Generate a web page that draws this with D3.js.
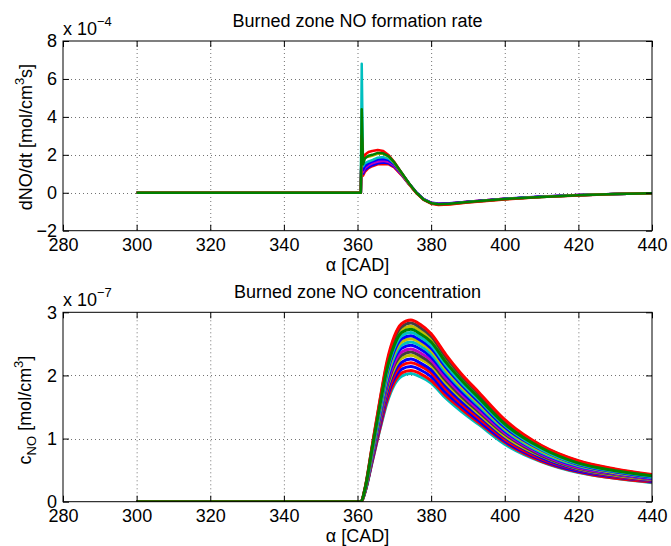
<!DOCTYPE html>
<html><head><meta charset="utf-8">
<script src="https://cdn.jsdelivr.net/npm/d3@7"></script>
<style>
body{margin:0;background:#fff}
svg{display:block}
text{font-family:"Liberation Sans",Arial,Helvetica,sans-serif;fill:#000}
</style>
</head><body>
<svg id="c" width="671" height="546"></svg>
<script>
// ---------- tick labels ----------
const alphaTicks = [280, 300, 320, 340, 360, 380, 400, 420, 440];
const rateTicks = [-2, 0, 2, 4, 6, 8];
const concTicks = [0, 1, 2, 3];

// ---------- top panel: dNO/dt  (x 1e-4 mol/cm^3 s) ----------
const rateAlpha = [300, 360.9, 361.15, 361.5, 362, 363, 364, 365.5, 367, 368.5, 370, 372, 374, 376, 378, 380, 382, 385, 390, 395, 400, 410, 420, 430, 440];
const rateRed     = [0, 0, 3.0, 1.7, 2.0, 2.15, 2.2, 2.25, 2.2, 1.98, 1.62, 1.05, 0.48, -0.02, -0.38, -0.58, -0.65, -0.62, -0.52, -0.43, -0.35, -0.23, -0.14, -0.07, -0.03];
const rateOlive   = [0, 0, 2.8, 1.9, 1.95, 1.9, 1.95, 2.05, 2.05, 1.9, 1.58, 1.02, 0.47, -0.01, -0.36, -0.56, -0.62, -0.6, -0.5, -0.42, -0.34, -0.22, -0.13, -0.07, -0.03];
const rateBlue    = [0, 0, 3.2, 1.2, 1.4, 1.55, 1.65, 1.75, 1.78, 1.72, 1.5, 1.02, 0.5, 0.02, -0.34, -0.54, -0.6, -0.58, -0.49, -0.41, -0.33, -0.21, -0.13, -0.06, -0.02];
const rateMagenta = [0, 0, 2.9, 1.1, 1.3, 1.45, 1.55, 1.65, 1.68, 1.62, 1.42, 0.97, 0.46, 0.0, -0.35, -0.53, -0.58, -0.56, -0.48, -0.4, -0.32, -0.21, -0.12, -0.06, -0.02];
const rateGray    = [0, 0, 2.7, 1.3, 1.5, 1.6, 1.7, 1.8, 1.82, 1.74, 1.5, 1.0, 0.47, -0.01, -0.36, -0.55, -0.6, -0.58, -0.49, -0.41, -0.33, -0.21, -0.13, -0.06, -0.02];
const rateCyan    = [0, 0, 6.8, 1.4, 1.55, 1.65, 1.72, 1.85, 1.88, 1.8, 1.55, 1.03, 0.48, -0.01, -0.37, -0.56, -0.61, -0.59, -0.5, -0.42, -0.33, -0.22, -0.13, -0.06, -0.02];
const rateBlue2   = [0, 0, 3.0, 1.0, 1.2, 1.35, 1.45, 1.55, 1.6, 1.55, 1.38, 0.95, 0.45, 0.0, -0.34, -0.52, -0.56, -0.55, -0.47, -0.39, -0.31, -0.2, -0.12, -0.06, -0.02];
const rateRed2    = [0, 0, 2.6, 0.9, 1.1, 1.3, 1.4, 1.5, 1.52, 1.5, 1.33, 0.92, 0.44, -0.01, -0.36, -0.55, -0.6, -0.57, -0.48, -0.4, -0.32, -0.21, -0.12, -0.06, -0.02];
const rateGreen   = [0, 0, 4.4, 1.5, 1.8, 1.95, 2.0, 2.1, 2.08, 1.92, 1.6, 1.05, 0.5, 0.0, -0.36, -0.55, -0.6, -0.58, -0.49, -0.41, -0.33, -0.22, -0.13, -0.07, -0.03];

// ---------- bottom panel: c_NO (x 1e-7 mol/cm^3) ----------
const concAlpha = [300, 361, 362, 364, 366, 368, 370, 372, 374.5, 377, 380, 384, 388, 393, 400, 410, 420, 430, 440];
const conc01 = [0, 0, .20, .89, 1.58, 2.22, 2.62, 2.82, 2.88, 2.81, 2.66, 2.33, 2.04, 1.73, 1.30, .89, .65, .52, .43];
const conc02 = [0, 0, .20, .88, 1.56, 2.18, 2.58, 2.77, 2.83, 2.76, 2.62, 2.29, 2.01, 1.70, 1.27, .88, .64, .51, .42];
const conc03 = [0, 0, .19, .86, 1.53, 2.14, 2.53, 2.72, 2.78, 2.71, 2.57, 2.25, 1.97, 1.67, 1.25, .86, .63, .50, .42];
const conc04 = [0, 0, .19, .85, 1.50, 2.10, 2.48, 2.68, 2.73, 2.66, 2.53, 2.21, 1.94, 1.64, 1.23, .85, .61, .49, .41];
const conc05 = [0, 0, .19, .83, 1.47, 2.06, 2.44, 2.63, 2.68, 2.61, 2.48, 2.17, 1.90, 1.61, 1.21, .83, .60, .48, .40];
const conc06 = [0, 0, .18, .82, 1.45, 2.03, 2.39, 2.58, 2.63, 2.56, 2.43, 2.13, 1.87, 1.58, 1.18, .82, .59, .47, .39];
const conc07 = [0, 0, .18, .80, 1.42, 1.99, 2.35, 2.53, 2.58, 2.52, 2.39, 2.09, 1.83, 1.55, 1.16, .80, .58, .46, .39];
const conc08 = [0, 0, .18, .78, 1.39, 1.95, 2.30, 2.48, 2.53, 2.47, 2.34, 2.05, 1.80, 1.52, 1.14, .78, .57, .46, .38];
const conc09 = [0, 0, .17, .77, 1.36, 1.91, 2.26, 2.43, 2.48, 2.42, 2.29, 2.01, 1.76, 1.49, 1.12, .77, .56, .45, .37];
const conc10 = [0, 0, .17, .75, 1.33, 1.86, 2.20, 2.37, 2.42, 2.36, 2.24, 1.96, 1.72, 1.45, 1.09, .75, .54, .44, .36];
const conc11 = [0, 0, .17, .73, 1.30, 1.82, 2.16, 2.32, 2.37, 2.31, 2.19, 1.92, 1.68, 1.42, 1.07, .73, .53, .43, .36];
const conc12 = [0, 0, .16, .72, 1.28, 1.79, 2.11, 2.27, 2.32, 2.26, 2.15, 1.88, 1.65, 1.39, 1.04, .72, .52, .42, .35];
const conc13 = [0, 0, .16, .70, 1.24, 1.74, 2.06, 2.21, 2.26, 2.20, 2.09, 1.83, 1.60, 1.36, 1.02, .70, .51, .41, .34];
const conc14 = [0, 0, .15, .68, 1.21, 1.69, 2.00, 2.16, 2.20, 2.15, 2.04, 1.78, 1.56, 1.32, .99, .68, .50, .40, .33];
const conc15 = [0, 0, .15, .66, 1.18, 1.65, 1.95, 2.10, 2.14, 2.09, 1.98, 1.73, 1.52, 1.28, .96, .66, .48, .39, .32];
const conc16 = [0, 0, .15, .64, 1.14, 1.60, 1.89, 2.04, 2.08, 2.03, 1.92, 1.68, 1.48, 1.25, .94, .64, .47, .37, .31];
const conc17 = [0, 0, .14, .63, 1.12, 1.56, 1.85, 1.99, 2.03, 1.98, 1.88, 1.64, 1.44, 1.22, .91, .63, .46, .37, .30];

// ---------- styles ----------
const C = {b:"#0000ff", g:"#008000", r:"#ff0000", c:"#00bfbf", m:"#bf00bf", y:"#bfbf00", k:"#404040"};
const rateSeries = [
  [rateRed2, C.r], [rateBlue2, C.b], [rateMagenta, C.m], [rateGray, C.k], [rateBlue, C.b],
  [rateCyan, C.c], [rateOlive, C.y], [rateRed, C.r], [rateGreen, C.g]
];
const concSeries = [
  [conc17, C.c], [conc16, C.r], [conc15, C.b], [conc14, C.r], [conc13, C.b], [conc12, C.y],
  [conc11, C.k], [conc10, C.m], [conc09, C.b], [conc08, C.c], [conc07, C.y], [conc06, C.b],
  [conc05, C.c], [conc03, C.y], [conc02, C.k], [conc01, C.r], [conc04, C.g]
];

const svg = d3.select("#c");
svg.append("rect").attr("width", 671).attr("height", 546).attr("fill", "#fff");
const X0 = 63, X1 = 652;
let clipId = 0;

function panel(o) {
  const x = d3.scaleLinear().domain([280, 440]).range([X0, X1]);
  const y = d3.scaleLinear().domain(o.yDomain).range([o.bottom, o.top]);
  const g = svg.append("g");

  // grid
  const grid = g.append("g").attr("stroke", "#000").attr("stroke-width", 1)
    .attr("stroke-dasharray", "1,3").attr("opacity", 0.55);
  grid.selectAll("line.v").data(alphaTicks.slice(1, -1)).join("line")
    .attr("x1", d => x(d) + 0.5).attr("x2", d => x(d) + 0.5)
    .attr("y1", o.top).attr("y2", o.bottom);
  grid.selectAll("line.h").data(o.yTicks.slice(1, -1)).join("line")
    .attr("y1", d => Math.round(y(d)) + 0.5).attr("y2", d => Math.round(y(d)) + 0.5)
    .attr("x1", X0).attr("x2", X1);

  // data
  const id = "clip" + (clipId++);
  svg.append("clipPath").attr("id", id).append("rect")
    .attr("x", X0).attr("y", o.top).attr("width", X1 - X0).attr("height", o.bottom - o.top);
  const line = d3.line().x((d, i) => x(o.alpha[i])).y(d => y(d)).curve(o.curve);
  g.append("g").attr("clip-path", `url(#${id})`).selectAll("path").data(o.series).join("path")
    .attr("d", d => line(d[0])).attr("fill", "none").attr("stroke", d => d[1])
    .attr("stroke-width", o.lw).attr("stroke-linejoin", "round");

  // axes
  const ax = g.append("g").attr("class", "axes");
  ax.append("g").attr("transform", `translate(0,${o.bottom})`)
    .call(d3.axisBottom(x).tickValues(alphaTicks).tickSizeInner(-6).tickSizeOuter(0).tickPadding(7.5).tickFormat(d3.format("d")));
  ax.append("g").attr("transform", `translate(0,${o.top})`)
    .call(d3.axisTop(x).tickValues(alphaTicks).tickSizeInner(-6).tickSizeOuter(0).tickFormat(""));
  ax.append("g").attr("transform", `translate(${X0},0)`)
    .call(d3.axisLeft(y).tickValues(o.yTicks).tickSizeInner(-6).tickSizeOuter(0).tickPadding(6).tickFormat(d3.format("d")));
  ax.append("g").attr("transform", `translate(${X1},0)`)
    .call(d3.axisRight(y).tickValues(o.yTicks).tickSizeInner(-6).tickSizeOuter(0).tickFormat(""));
  ax.selectAll(".domain").remove();
  ax.selectAll(".tick line").attr("stroke", "#000");
  ax.selectAll(".tick text").attr("font-size", 18).attr("font-family", '"Liberation Sans",Arial,sans-serif');
  g.append("rect").attr("x", X0).attr("y", o.top).attr("width", X1 - X0).attr("height", o.bottom - o.top)
    .attr("fill", "none").attr("stroke", "#000").attr("stroke-width", 1);

  // title
  g.append("text").attr("x", (X0 + X1) / 2).attr("y", o.top - 14.5).attr("text-anchor", "middle")
    .attr("font-size", 18).text(o.title);
  // x label
  g.append("text").attr("x", (X0 + X1) / 2).attr("y", o.bottom + 40)
    .attr("text-anchor", "middle").attr("font-size", 18).text("\u03b1 [CAD]");
  // exponent
  const ex = g.append("text").attr("x", X0).attr("y", o.top - 6.5).attr("font-size", 18);
  ex.append("tspan").text("x 10");
  ex.append("tspan").attr("font-size", 13).attr("dy", -9).text(o.expo);
  // y label
  const yl = g.append("text").attr("transform", `translate(${o.ylx},${o.yly}) rotate(-90)`)
    .attr("text-anchor", "middle").attr("font-size", 18);
  o.ylabel(yl);
}

panel({
  top: 41, bottom: 230.7, yDomain: [-2, 8], yTicks: rateTicks,
  alpha: rateAlpha, series: rateSeries, curve: d3.curveLinear, lw: 2.5,
  title: "Burned zone NO formation rate", expo: "\u22124",
  ylx: 32, yly: 137,
  ylabel: t => {
    t.append("tspan").text("dNO/dt [mol/cm");
    t.append("tspan").attr("font-size", 13).attr("dy", -8).text("3");
    t.append("tspan").attr("dy", 8).text("s]");
  }
});

panel({
  top: 312.3, bottom: 501.7, yDomain: [0, 3], yTicks: concTicks,
  alpha: concAlpha, series: concSeries, curve: d3.curveMonotoneX, lw: 3,
  title: "Burned zone NO concentration", expo: "\u22127",
  ylx: 31, yly: 410,
  ylabel: t => {
    t.append("tspan").text("c");
    t.append("tspan").attr("font-size", 13).attr("dy", 5).text("NO");
    t.append("tspan").attr("dy", -5).text(" [mol/cm");
    t.append("tspan").attr("font-size", 13).attr("dy", -8).text("3");
    t.append("tspan").attr("dy", 8).text("]");
  }
});
</script>
</body></html>
